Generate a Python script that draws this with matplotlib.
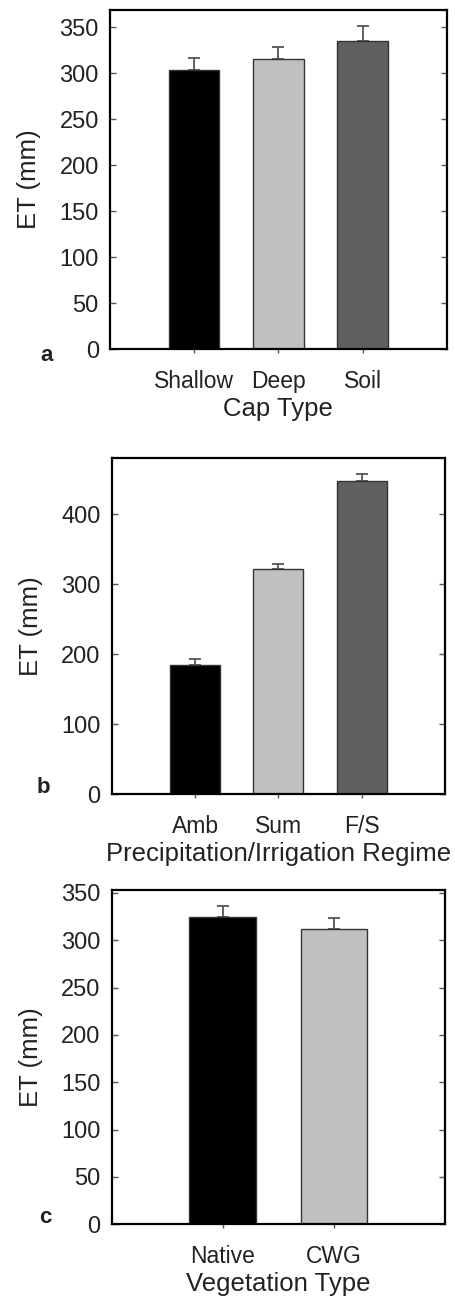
import matplotlib
matplotlib.use("Agg")
from matplotlib import pyplot as plt
import numpy as np

# panel a: cap type
cap_types = ["Shallow", "Deep", "Soil"]
cap_et = [304, 316, 335]
cap_err = [13, 13, 17]

# panel b: precipitation / irrigation regime
regimes = ["Amb", "Sum", "F/S"]
regime_et = [185, 322, 447]
regime_err = [8, 7.5, 10]

# panel c: vegetation type
veg_types = ["Native", "CWG"]
veg_et = [324, 312]
veg_err = [12, 11]

bar_colors = ["#000000", "#c0c0c0", "#606060"]
text_color = "#222222"

plt.rcParams["font.family"] = ["Liberation Sans", "DejaVu Sans"]
plt.rcParams["text.color"] = text_color
plt.rcParams["axes.labelcolor"] = text_color
plt.rcParams["xtick.color"] = "#555555"
plt.rcParams["ytick.color"] = "#555555"
plt.rcParams["xtick.labelcolor"] = text_color
plt.rcParams["ytick.labelcolor"] = text_color

fig = plt.figure(figsize=(4.56, 12.99), dpi=100)

panels = [
    dict(rect=[0.241, 0.7313, 0.739, 0.261], cats=cap_types, vals=cap_et, errs=cap_err,
         ylim=369, yticks=np.arange(0, 351, 50), xlabel="Cap Type", tag="a", tagpos=(0.103, 0.7267)),
    dict(rect=[0.245, 0.3885, 0.731, 0.2587], cats=regimes, vals=regime_et, errs=regime_err,
         ylim=480, yticks=np.arange(0, 401, 100), xlabel="Precipitation/Irrigation Regime",
         tag="b", tagpos=(0.094, 0.394)),
    dict(rect=[0.245, 0.0575, 0.731, 0.2574], cats=veg_types, vals=veg_et, errs=veg_err,
         ylim=353, yticks=np.arange(0, 351, 50), xlabel="Vegetation Type", tag="c", tagpos=(0.099, 0.0624)),
]

for p in panels:
    ax = fig.add_axes(p["rect"])
    n = len(p["cats"])
    x = np.arange(1, n + 1)
    ax.bar(x, p["vals"], width=0.6, color=bar_colors[:n], edgecolor="#333333", linewidth=1, zorder=2)
    # one-sided (upper) error bars
    ax.errorbar(x, p["vals"], yerr=[np.zeros(n), p["errs"]], fmt="none", ecolor="#555555",
                elinewidth=1.3, capsize=4.5, capthick=1.3, zorder=1)
    ax.set_xlim(0, n + 1)
    ax.set_ylim(0, p["ylim"])
    ax.set_yticks(p["yticks"])
    ax.set_xticks(x)
    ax.set_xticklabels(p["cats"])
    ax.tick_params(axis="y", direction="in", right=True, length=4, width=1, labelsize=17, pad=8)
    ax.tick_params(axis="x", direction="out", length=3, width=1, labelsize=16.5, pad=12)
    for s in ax.spines.values():
        s.set_linewidth(1.6)
    ax.set_xlabel(p["xlabel"], fontsize=18.5, labelpad=3)
    ax.set_ylabel("ET (mm)", fontsize=18.5)
    ax.yaxis.set_label_coords(-0.205, 0.5)
    fig.text(p["tagpos"][0], p["tagpos"][1], p["tag"], fontsize=16, fontweight="bold",
             ha="center", va="center")

fig.savefig("out.png", dpi=100)
